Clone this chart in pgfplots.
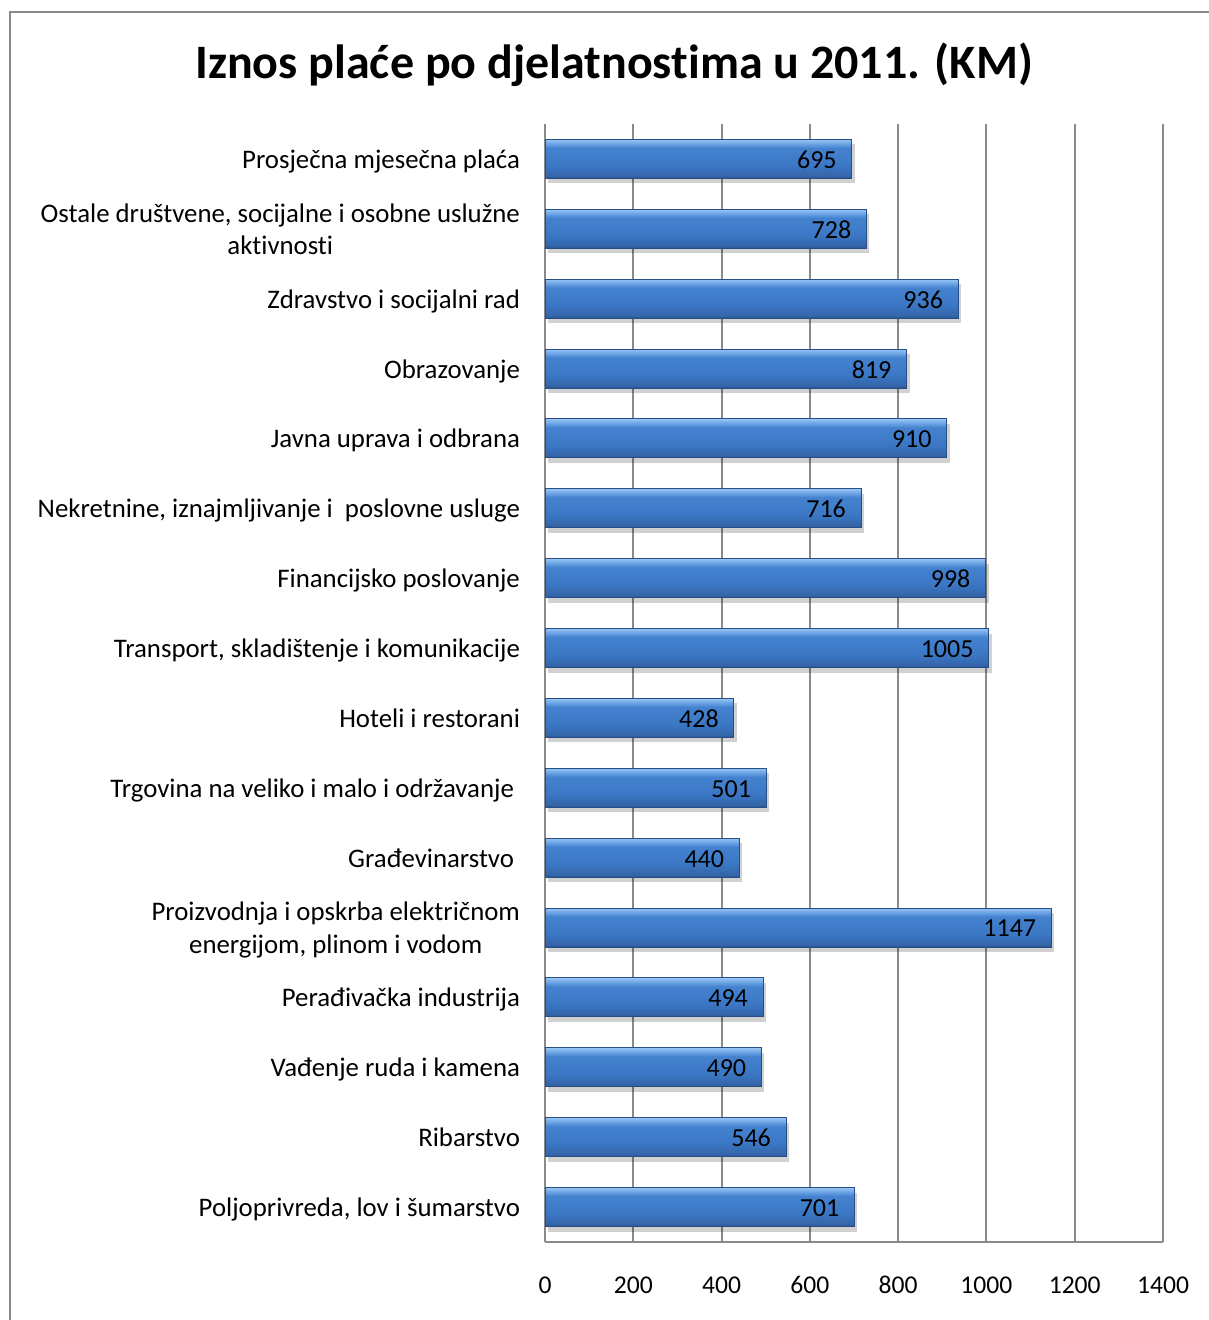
\documentclass[border=0pt]{standalone}
\usepackage{fontspec}
\setmainfont[Ligatures={NoCommon}]{Carlito}
\usepackage{pgfplots}
\pgfplotsset{compat=1.18}
\definecolor{bd}{HTML}{274F86}
\definecolor{bb}{HTML}{3465A9}
\definecolor{bm}{HTML}{3B77C4}
\definecolor{bm2}{HTML}{4482CF}
\definecolor{bt2}{HTML}{6FA6E6}
\definecolor{bt}{HTML}{98C5F4}
\pgfdeclareverticalshading{barshade}{100bp}{color(0bp)=(bd); color(25bp)=(bd); color(28bp)=(bb); color(42bp)=(bm); color(64bp)=(bm2); color(70bp)=(bt2); color(75bp)=(bt); color(100bp)=(bt)}
\definecolor{gridgray}{HTML}{8A8A8A}
\pgfplotsset{
  mybar/.style={xbar, bar width=19.5pt, bar shift=0pt, draw=bd, line width=0.5pt, shading=barshade,
    nodes near coords,
    every node near coord/.append style={anchor=east, xshift=-4pt, yshift=-0.5pt, font=\fontsize{13}{15}\selectfont, text=black},
    point meta=x},
  shadowbar/.style={xbar, bar width=19.5pt, bar shift=0pt, draw=none, fill=black, fill opacity=0.18,
    xshift=1.5pt, yshift=-2.5pt},
}
\newcommand\onebar[2]{%
  \addplot[shadowbar] coordinates {(#1,#2)};
  \addplot[mybar] coordinates {(#1,#2)};
}
\newcommand\twoline[2]{\raisebox{2.5pt}{\begin{tabular}{@{}c@{}}#1\\#2\end{tabular}}}
\begin{document}
\begin{tikzpicture}[x=1pt,y=1pt]
\useasboundingbox (0,0) rectangle (604,660);
\draw[gridgray, line width=1pt] (5,-20) -- (5,654) -- (640,654);
\node[font=\fontsize{24}{28}\selectfont\bfseries] at (307,627.5) {Iznos plaće po djelatnostima u 2011. (KM)};
\begin{axis}[
  at={(272.5pt,39pt)}, anchor=south west,
  scale only axis, width=309pt, height=559pt,
  xmin=0, xmax=1400, ymin=-0.5, ymax=15.5,
  y dir=reverse,
  xtick={0,200,...,1400},
  ytick={0,...,15},
  yticklabels={
    {Prosječna mjesečna plaća},
    {\twoline{Ostale društvene, socijalne i osobne uslužne}{aktivnosti}},
    {Zdravstvo i socijalni rad},
    {Obrazovanje},
    {Javna uprava i odbrana},
    {Nekretnine, iznajmljivanje i\ \ poslovne usluge},
    {Financijsko poslovanje},
    {Transport, skladištenje i komunikacije},
    {Hoteli i restorani},
    {Trgovina na veliko i malo i održavanje\kern3pt},
    {Građevinarstvo\kern3pt},
    {\twoline{Proizvodnja i opskrba električnom}{energijom, plinom i vodom}},
    {Perađivačka industrija},
    {Vađenje ruda i kamena},
    {Ribarstvo},
    {Poljoprivreda, lov i šumarstvo}},
  yticklabel style={font=\fontsize{13.4}{16.3}\selectfont, xshift=-9pt, yshift=-1.5pt},
  xticklabel style={font=\fontsize{12.8}{15}\selectfont, yshift=-11.5pt},
  typeset ticklabels with strut,
  /pgf/number format/assume math mode=true,
  /pgf/number format/1000 sep={},
  axis lines=left, axis line style={-, draw=gridgray, line width=1pt},
  xmajorgrids, grid style={draw=gridgray, line width=1pt},
  major tick length=0pt, tick style={draw=none},
  clip=false,
]
\onebar{695}{0}
\onebar{728}{1}
\onebar{936}{2}
\onebar{819}{3}
\onebar{910}{4}
\onebar{716}{5}
\onebar{998}{6}
\onebar{1005}{7}
\onebar{428}{8}
\onebar{501}{9}
\onebar{440}{10}
\onebar{1147}{11}
\onebar{494}{12}
\onebar{490}{13}
\onebar{546}{14}
\onebar{701}{15}
\end{axis}
\end{tikzpicture}
\end{document}
